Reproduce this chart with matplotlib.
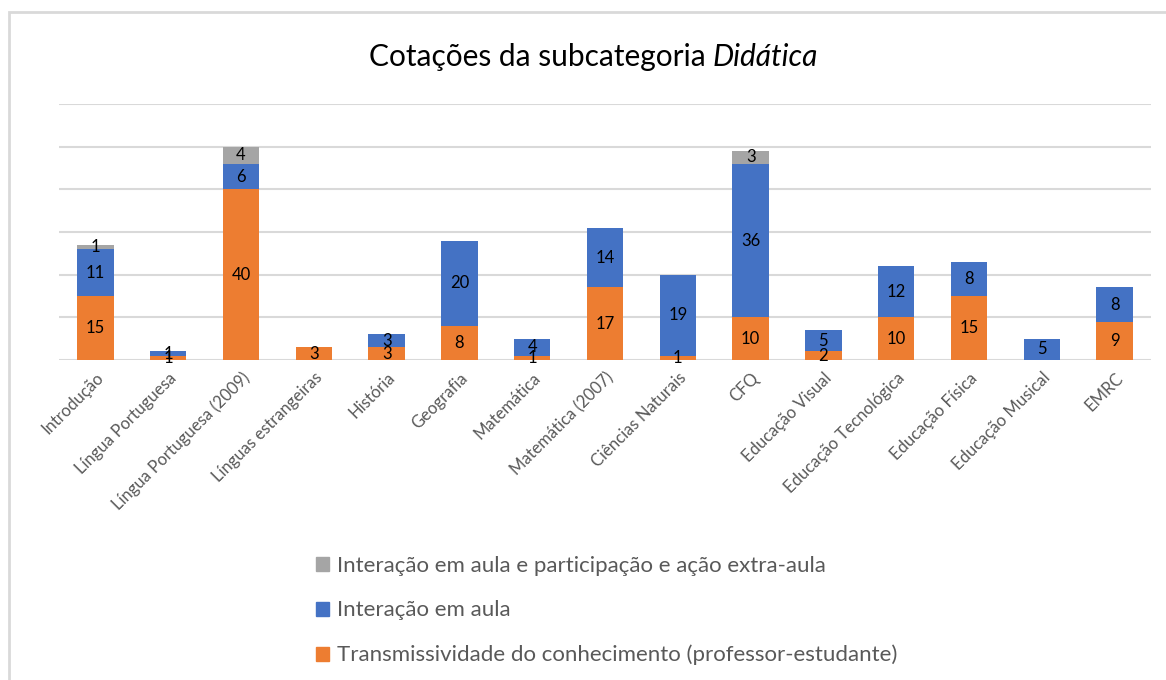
import numpy as np
import matplotlib
matplotlib.use("Agg")
import matplotlib.pyplot as plt
from matplotlib.patches import Rectangle, Patch

plt.rcParams['font.family'] = ['Lato', 'DejaVu Sans']

categorias = ["Introdução", "Língua Portuguesa", "Língua Portuguesa (2009)",
              "Línguas estrangeiras", "História", "Geografia", "Matemática",
              "Matemática (2007)", "Ciências Naturais", "CFQ", "Educação Visual",
              "Educação Tecnológica", "Educação Física", "Educação Musical", "EMRC"]
transmissividade = [15, 1, 40, 3, 3, 8, 1, 17, 1, 10, 2, 10, 15, 0, 9]
interacao = [11, 1, 6, 0, 3, 20, 4, 14, 19, 36, 5, 12, 8, 5, 8]
interacao_extra = [1, 0, 4, 0, 0, 0, 0, 0, 0, 3, 0, 0, 0, 0, 0]

series = [
    ("Transmissividade do conhecimento (professor-estudante)", transmissividade, "#ED7D31"),
    ("Interação em aula", interacao, "#4472C4"),
    ("Interação em aula e participação e ação extra-aula", interacao_extra, "#A5A5A5"),
]

W, H = 1166, 680
fig = plt.figure(figsize=(W / 100, H / 100), dpi=100)
ax = fig.add_axes([59 / W, 1 - 360 / H, (1151 - 59) / W, (360 - 104) / H])

x = np.arange(len(categorias))
bottom = np.zeros(len(categorias))
for nome, vals, cor in series:
    vals = np.array(vals, dtype=float)
    bars = ax.bar(x, vals, 0.5, bottom=bottom, color=cor, zorder=3)
    for b, v, bt in zip(bars, vals, bottom):
        if v > 0:
            ax.text(b.get_x() + b.get_width() / 2, bt + v / 2, f"{int(v)}",
                    ha='center', va='center', fontsize=12, color='#000000', zorder=4)
    bottom += vals

ax.set_xlim(-0.5, len(categorias) - 0.5)
ax.set_ylim(0, 60)
ax.set_yticks(np.arange(0, 61, 10))
ax.yaxis.grid(True, color='#D9D9D9', linewidth=1.5, zorder=0)
ax.tick_params(axis='y', left=False, labelleft=False)
ax.tick_params(axis='x', length=0, pad=7)
for s in ax.spines.values():
    s.set_visible(False)
ax.set_xticks(x)
ax.set_xticklabels(categorias, rotation=45, ha='right', rotation_mode='anchor',
                   fontsize=12, color='#595959')

# title with italic part
fig.text(706 / W, 1 - 66 / H, "Cotações da subcategoria", ha='right', va='baseline',
         fontsize=21.5, color='#000000')
fig.text(713 / W, 1 - 66 / H, "Didática", ha='left', va='baseline',
         fontsize=21.5, color='#000000', style='italic')

# legend
handles = [Patch(color=c) for _, _, c in series[::-1]]
labels = [n for n, _, _ in series[::-1]]
fig.legend(handles, labels, loc='upper left', bbox_to_anchor=(296 / W, 1 - 536 / H),
           frameon=False, fontsize=16, labelcolor='#595959', handlelength=0.6,
           handleheight=0.6, handletextpad=0.35, labelspacing=1.1)

# chart border
fig.patches.append(Rectangle((9 / W, -0.1), 1.2, 1 - 12 / H + 0.1,
                             transform=fig.transFigure, fill=False,
                             edgecolor='#D9D9D9', linewidth=2))

fig.savefig("out.png", dpi=100)
